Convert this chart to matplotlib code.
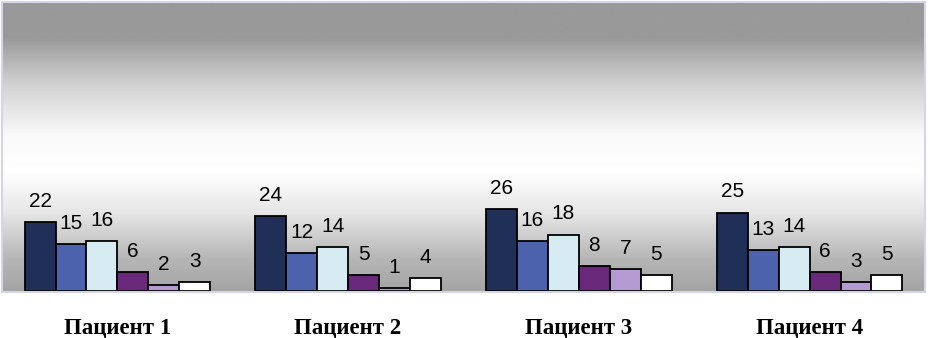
import matplotlib.pyplot as plt
import numpy as np
from matplotlib.colors import LinearSegmentedColormap

patients = ['Пациент 1', 'Пациент 2', 'Пациент 3', 'Пациент 4']

series_1 = [22, 24, 26, 25]
series_2 = [15, 12, 16, 13]
series_3 = [16, 14, 18, 14]
series_4 = [6, 5, 8, 6]
series_5 = [2, 1, 7, 3]
series_6 = [3, 4, 5, 5]

all_series = [series_1, series_2, series_3, series_4, series_5, series_6]
bar_colors = ['#1f2f57', '#4d62ad', '#d6ecf2', '#69287a', '#b39bd2', '#ffffff']

fig = plt.figure(figsize=(9.29, 3.38), dpi=100)
ax = fig.add_axes([2 / 929, 46 / 338, 923 / 929, 290 / 338])

# gray - white - gray background like the original
grad = LinearSegmentedColormap.from_list('bg', [
    (0.0, (0.64, 0.64, 0.64)),
    (0.12, (0.72, 0.72, 0.72)),
    (0.27, (0.9, 0.9, 0.9)),
    (0.41, (1.0, 1.0, 1.0)),
    (0.54, (0.98, 0.98, 0.98)),
    (0.72, (0.82, 0.82, 0.82)),
    (0.88, (0.6, 0.6, 0.6)),
    (1.0, (0.6, 0.6, 0.6)),
])
gy = np.linspace(0, 1, 256).reshape(-1, 1)
ax.imshow(gy, cmap=grad, aspect='auto', extent=[0, 1, 0, 1],
          transform=ax.transAxes, origin='lower', zorder=0, vmin=0, vmax=1)

n = len(all_series)
width = 0.134
x = np.arange(len(patients))

for i, (vals, col) in enumerate(zip(all_series, bar_colors)):
    offs = (i - (n - 1) / 2) * width
    bars = ax.bar(x + offs, vals, width, color=col, edgecolor='black',
                  linewidth=1.3, zorder=2)
    for b, v in zip(bars, vals):
        ax.annotate(str(v), (b.get_x() + b.get_width() / 2, b.get_height()),
                    xytext=(0, 8), textcoords='offset points',
                    ha='center', va='bottom', fontsize=15,
                    family='Liberation Sans', zorder=3)

ax.set_xlim(-0.5, len(patients) - 0.5)
ax.set_ylim(-0.3, 92)
ax.set_yticks([])
ax.set_xticks(x)
ax.set_xticklabels(patients, family='Liberation Serif', fontweight='bold',
                   fontsize=16.5)
ax.tick_params(axis='x', length=0, pad=19)

for s in ax.spines.values():
    s.set_color('#d4d4ea')
    s.set_linewidth(1.5)

fig.savefig('out.png', dpi=100)
